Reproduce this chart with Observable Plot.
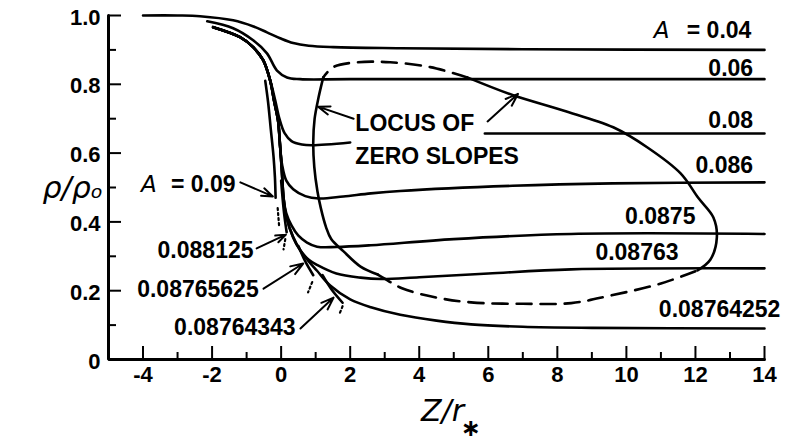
<!DOCTYPE html>
<html><head><meta charset="utf-8">
<script src="https://cdn.jsdelivr.net/npm/d3@7"></script>
<script src="https://cdn.jsdelivr.net/npm/@observablehq/plot@0.6"></script>
<style>body{margin:0;background:#fff}</style>
</head><body><div id="chart"></div>
<script>
// ---- axes ----
const xDomain = [-5, 14];
const yDomain = [0, 1];
const xTicksMajor = [-4, -2, 0, 2, 4, 6, 8, 10, 12, 14];
const xTickLabels = ["-4", "-2", "0", "2", "4", "6", "8", "10", "12", "14"];
const xTicksMinor = [-3, -1, 1, 3, 5, 7, 9, 11, 13];
const yTicksMajor = [0, 0.2, 0.4, 0.6, 0.8, 1.0];
const yTickLabels = ["0", "0.2", "0.4", "0.6", "0.8", "1.0"];
const yTicksMinor = [0.1, 0.3, 0.5, 0.7, 0.9];

// ---- solution curves rho/rho0 vs Z/r* ([x, y]) ----
const curveA004 = [[-4,1.0],[-3,1.0],[-2.35,0.998],[-1.39,0.986],[-0.8,0.968],[-0.41,0.951],[-0.03,0.934],[0.35,0.92],[0.8,0.912],[1.51,0.908],[3.45,0.905],[7,0.902],[14,0.9]];
const curveA006 = [[-2.14,0.983],[-1.39,0.963],[-0.81,0.928],[-0.41,0.89],[-0.12,0.84],[0.17,0.82],[0.55,0.815],[2,0.815],[14,0.815]];
const curveA008 = [[-1.97,0.966],[-1.19,0.937],[-0.81,0.908],[-0.52,0.87],[-0.32,0.812],[-0.17,0.753],[-0.05,0.70],[0.1,0.658],[0.3,0.635],[0.6,0.625],[0.9,0.623],[2.0,0.631],[4,null],[5.9,0.657],[8,0.657],[14,0.657]];
const curveA0086 = [[-1.97,0.966],[-1.19,0.937],[-0.81,0.908],[-0.52,0.87],[-0.32,0.812],[-0.2,0.75],[-0.09,0.695],[-0.03,0.62],[0.03,0.565],[0.15,0.52],[0.35,0.495],[0.7,0.475],[1.1,0.468],[1.8,0.474],[2.6,0.483],[3.45,0.49],[6.7,0.505],[9.6,0.512],[14,0.515]];
const curveA00875 = [[-1.97,0.966],[-1.19,0.937],[-0.81,0.908],[-0.52,0.87],[-0.32,0.812],[-0.2,0.75],[-0.09,0.695],[-0.03,0.62],[0.02,0.55],[0.07,0.47],[0.15,0.425],[0.3,0.39],[0.5,0.36],[0.75,0.34],[1.04,0.328],[1.6,0.327],[2.6,0.332],[5,0.35],[8.4,0.365],[14,0.365]];
const curveA008763 = [[-1.97,0.966],[-1.19,0.937],[-0.81,0.908],[-0.52,0.87],[-0.32,0.812],[-0.2,0.75],[-0.09,0.695],[-0.03,0.62],[0.02,0.55],[0.07,0.47],[0.15,0.415],[0.35,0.355],[0.55,0.318],[0.8,0.29],[1.04,0.275],[1.6,0.25],[2.3,0.238],[2.9,0.234],[4,0.239],[6,0.25],[8.4,0.262],[14,0.265]];
const curveA008764252 = [[-1.97,0.966],[-1.19,0.937],[-0.81,0.908],[-0.52,0.87],[-0.32,0.812],[-0.2,0.75],[-0.09,0.695],[-0.03,0.62],[0.02,0.55],[0.07,0.47],[0.15,0.415],[0.35,0.355],[0.55,0.318],[0.8,0.285],[1.04,0.258],[1.42,0.215],[2.0,0.175],[2.6,0.152],[3.45,0.13],[4.5,0.113],[5.5,0.102],[7,0.095],[9,0.092],[14,0.09]];

// terminated (singular) solutions: solid part and dotted continuation
const curveA009 = [[-0.46,0.81],[-0.38,0.75],[-0.3,0.67],[-0.22,0.59],[-0.18,0.53],[-0.16,0.47]];
const dotsA009 = [[-0.1,0.44],[-0.06,0.39]];
const curveA0088125 = [[0.0,0.52],[0.08,0.43],[0.16,0.37]];
const dotsA0088125 = [[0.12,0.35],[0.07,0.32]];
const curveA008765625 = [[0.5,0.33],[0.7,0.285],[0.93,0.245]];
const dotsA008765625 = [[0.9,0.225],[0.78,0.195]];
const curveA008764343 = [[1.2,0.245],[1.45,0.205],[1.78,0.165]];
const dotsA008764343 = [[1.78,0.155],[1.7,0.135]];

// locus of zero slopes (closed loop, solid and dashed pieces)
const locusSolidLeft = [[1.22,0.82],[1.08,0.76],[0.97,0.70],[0.93,0.63],[0.96,0.56],[1.05,0.49],[1.15,0.44],[1.3,0.385],[1.45,0.35],[1.8,0.315],[2.3,0.27],[2.8,0.247]];
const locusDashBottom = [[2.8,0.247],[3.0,0.235],[3.5,0.207],[4.5,0.18],[5.5,0.166],[7,0.162],[8.4,0.164],[9.5,0.185],[11,0.221],[12.06,0.259]];
const locusSolidRight = [[12.06,0.259],[12.43,0.29],[12.62,0.355],[12.52,0.413],[12.08,0.47],[11.57,0.541],[10.6,0.617],[9.62,0.675],[8.17,0.724],[6.72,0.768],[5.39,0.82]];
const locusDashTop = [[5.39,0.82],[4.32,0.85],[3.16,0.864],[2.2,0.864],[1.51,0.85],[1.22,0.82]];

// ---- annotations ----
const labelsEnd = [
  {text: "= 0.04", x: 13.62, y: 0.956},
  {text: "0.06", x: 13.67, y: 0.846},
  {text: "0.08", x: 13.67, y: 0.695},
  {text: "0.086", x: 13.67, y: 0.564},
  {text: "0.0875", x: 12.0, y: 0.416},
  {text: "0.08763", x: 11.51, y: 0.311},
  {text: "0.08764252", x: 14.46, y: 0.145},
  {text: "= 0.09", x: -1.32, y: 0.509},
  {text: "0.088125", x: -0.8, y: 0.317},
  {text: "0.08765625", x: -0.65, y: 0.203},
  {text: "0.08764343", x: 0.42, y: 0.093}
];
const labelsStart = [
  {text: "LOCUS OF", x: 2.15, y: 0.686},
  {text: "ZERO SLOPES", x: 2.15, y: 0.59}
];
const italicA = [{text: "A", x: 11.02, y: 0.956}, {text: "A", x: -3.83, y: 0.509}];
const arrows = [
  {x1: 2.10, y1: 0.70, x2: 1.07, y2: 0.735},
  {x1: 5.98, y1: 0.692, x2: 6.86, y2: 0.772},
  {x1: -1.18, y1: 0.515, x2: -0.24, y2: 0.474},
  {x1: -0.71, y1: 0.323, x2: 0.14, y2: 0.363},
  {x1: -0.51, y1: 0.206, x2: 0.64, y2: 0.279},
  {x1: 0.56, y1: 0.09, x2: 1.52, y2: 0.18}
];

function rows(arr, name) { return arr.map(([x, y]) => ({x, y, s: name})); }
const solidData = [
  ...rows(curveA004, "0.04"), ...rows(curveA006, "0.06"), ...rows(curveA008, "0.08"),
  ...rows(curveA0086, "0.086"), ...rows(curveA00875, "0.0875"), ...rows(curveA008763, "0.08763"),
  ...rows(curveA008764252, "0.08764252"), ...rows(curveA009, "0.09"), ...rows(curveA0088125, "0.088125"),
  ...rows(curveA008765625, "0.08765625"), ...rows(curveA008764343, "0.08764343"),
  ...rows(locusSolidLeft, "locusL"), ...rows(locusSolidRight, "locusR")
];
const dashData = [...rows(locusDashBottom, "locusB"), ...rows(locusDashTop, "locusT")];
const dotData = [...rows(dotsA009, "d1"), ...rows(dotsA0088125, "d2"), ...rows(dotsA008765625, "d3"), ...rows(dotsA008764343, "d4")];

// axis frame (left and bottom lines) through the domain corners
const frameLine = [
  {x: xDomain[0], y: yDomain[1]}, {x: xDomain[0], y: yDomain[0]}, {x: xDomain[1], y: yDomain[0]}
];

const W = 786, H = 446, ML = 108, MR = 22, MT = 15, MB = 87;
const FW = W - ML - MR, FH = H - MT - MB;
const FONT = "'Liberation Sans', Arial, Helvetica, sans-serif";
const HAND = "'DejaVu Sans', sans-serif";

const chart = Plot.plot({
  width: W, height: H,
  marginLeft: ML, marginRight: MR, marginTop: MT, marginBottom: MB,
  x: {domain: xDomain, axis: null},
  y: {domain: yDomain, axis: null},
  style: {background: "#fff", fontFamily: FONT, color: "#000"},
  marks: [
    Plot.line(frameLine, {x: "x", y: "y", stroke: "#000", strokeWidth: 3, strokeLinejoin: "miter"}),
    // inward ticks (tick marks span the frame, inset to tick length)
    Plot.tickX(xTicksMajor, {x: d => d, insetTop: FH - 13, stroke: "#000", strokeWidth: 2}),
    Plot.tickX(xTicksMinor, {x: d => d, insetTop: FH - 7, stroke: "#000", strokeWidth: 2}),
    Plot.tickY(yTicksMajor.slice(1), {y: d => d, insetRight: FW - 13, stroke: "#000", strokeWidth: 2}),
    Plot.tickY(yTicksMinor, {y: d => d, insetRight: FW - 8, stroke: "#000", strokeWidth: 2}),
    Plot.text(xTicksMajor, {x: d => d, text: (d, i) => xTickLabels[i], frameAnchor: "bottom", dy: 22, fontSize: 22, fontWeight: "bold", fill: "#000"}),
    Plot.text(yTicksMajor, {y: d => d, text: (d, i) => yTickLabels[i], frameAnchor: "left", dx: -8, dy: 2, textAnchor: "end", fontSize: 22, fontWeight: "bold", fill: "#000"}),
    Plot.line(solidData, {x: "x", y: "y", z: "s", curve: "catmull-rom", stroke: "#000", strokeWidth: 2.6}),
    Plot.line(dashData, {x: "x", y: "y", z: "s", curve: "catmull-rom", stroke: "#000", strokeWidth: 2.6, strokeDasharray: "15,9"}),
    Plot.line(dotData, {x: "x", y: "y", z: "s", stroke: "#000", strokeWidth: 2.2, strokeDasharray: "2,3"}),
    Plot.arrow(arrows, {x1: "x1", y1: "y1", x2: "x2", y2: "y2", stroke: "#000", strokeWidth: 2, headLength: 10, headAngle: 40}),
    Plot.text(labelsEnd, {x: "x", y: "y", text: "text", textAnchor: "end", fontSize: 23, fontWeight: "bold", fill: "#000"}),
    Plot.text(labelsStart, {x: "x", y: "y", text: "text", textAnchor: "start", fontSize: 23, fontWeight: "bold", fill: "#000"}),
    Plot.text(italicA, {x: "x", y: "y", text: "text", fontSize: 23, fontStyle: "italic", fill: "#000", fontFamily: HAND}),
    Plot.text(["ρ/ρₒ"], {frameAnchor: "left", dx: -66, dy: 1, fontSize: 30, fontStyle: "italic", fill: "#000", fontFamily: HAND}),
    Plot.text(["Z/r"], {frameAnchor: "bottom", dx: 6, dy: 61, fontSize: 30, fontStyle: "italic", fill: "#000", fontFamily: HAND}),
    Plot.text(["∗"], {frameAnchor: "bottom", dx: 34, dy: 76, fontSize: 24, fontWeight: "bold", fill: "#000", fontFamily: HAND})
  ]
});
document.getElementById("chart").appendChild(chart);
</script>
</body></html>
